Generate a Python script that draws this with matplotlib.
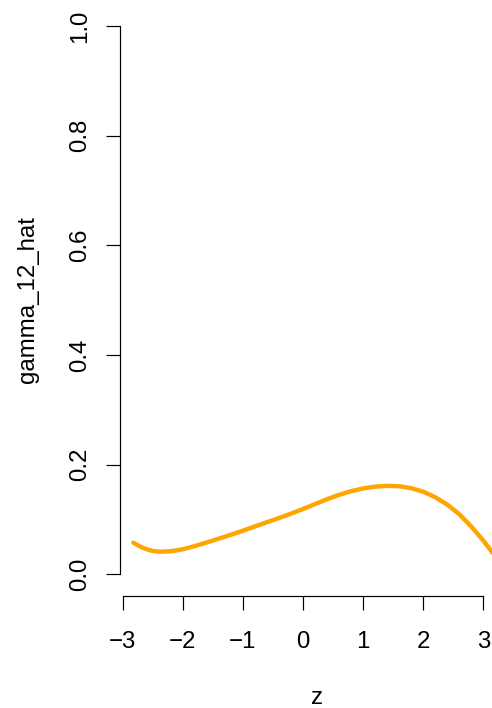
import matplotlib
matplotlib.use("Agg")
import matplotlib.pyplot as plt

plt.rcParams["font.family"] = ["Liberation Sans", "DejaVu Sans"]

# Estimated smooth curve of gamma_12_hat against z
z = [-2.824, -2.7, -2.6, -2.5, -2.381, -2.2, -2.0, -1.8, -1.6, -1.4,
     -1.2, -1.0, -0.8, -0.6, -0.4, -0.2, 0.0, 0.2, 0.4, 0.6,
     0.8, 1.0, 1.2, 1.4, 1.6, 1.8, 2.0, 2.2, 2.4, 2.6,
     2.8, 3.0, 3.14, 3.25]
gamma_12_hat = [0.0576, 0.0500, 0.0455, 0.0425, 0.0412, 0.0420, 0.0455, 0.0515,
                0.0580, 0.0650, 0.0720, 0.0795, 0.0872, 0.0950, 0.1025, 0.1105,
                0.1190, 0.1280, 0.1368, 0.1448, 0.1515, 0.1565, 0.1597, 0.1612,
                0.1605, 0.1570, 0.1505, 0.1405, 0.1270, 0.1095, 0.0870, 0.0615,
                0.0412, 0.0260]

x_ticks = [-3, -2, -1, 0, 1, 2, 3]
y_ticks = [0.0, 0.2, 0.4, 0.6, 0.8, 1.0]
y_tick_labels = ["0.0", "0.2", "0.4", "0.6", "0.8", "1.0"]

W, H = 492, 708
fig = plt.figure(figsize=(W / 72, H / 72), dpi=72)
fig.patch.set_facecolor("white")

# plot region in pixels: left 120, right 513 (runs past the edge), top 3.9, bottom 596.2
left, right, top, bottom = 120, 513, 3.9, 596.2
ax = fig.add_axes([left / W, (H - bottom) / H, (right - left) / W, (bottom - top) / H])
ax.set_facecolor("none")

ax.plot(z, gamma_12_hat, color="#FFA500", lw=4.4, solid_capstyle="round",
        solid_joinstyle="round")

ax.set_xlim(-3.045, 3.494)
ax.set_ylim(-0.04, 1.04)

for s in ("top", "right"):
    ax.spines[s].set_visible(False)
ax.spines["left"].set_bounds(0, 1)
ax.spines["bottom"].set_bounds(-3, 3)
for s in ("left", "bottom"):
    ax.spines[s].set_linewidth(1.2)
    ax.spines[s].set_color("black")

ax.set_xticks(x_ticks)
ax.set_xticklabels([str(t).replace("-", "\u2212") for t in x_ticks])
ax.set_yticks(y_ticks)
ax.set_yticklabels(y_tick_labels, rotation=90, va="center")

ax.tick_params(axis="both", direction="out", length=14.4, width=1.2,
               color="black", labelsize=24, labelcolor="black")
ax.tick_params(axis="x", pad=20)
ax.tick_params(axis="y", pad=14)

fig.text(316.7 / W, (H - 704.5) / H, "z", ha="center", va="baseline", fontsize=24)
fig.text(33.6 / W, (H - 300) / H, "gamma_12_hat", rotation=90, rotation_mode="anchor",
         ha="center", va="baseline", fontsize=24)

fig.savefig("out.png", dpi=72)
